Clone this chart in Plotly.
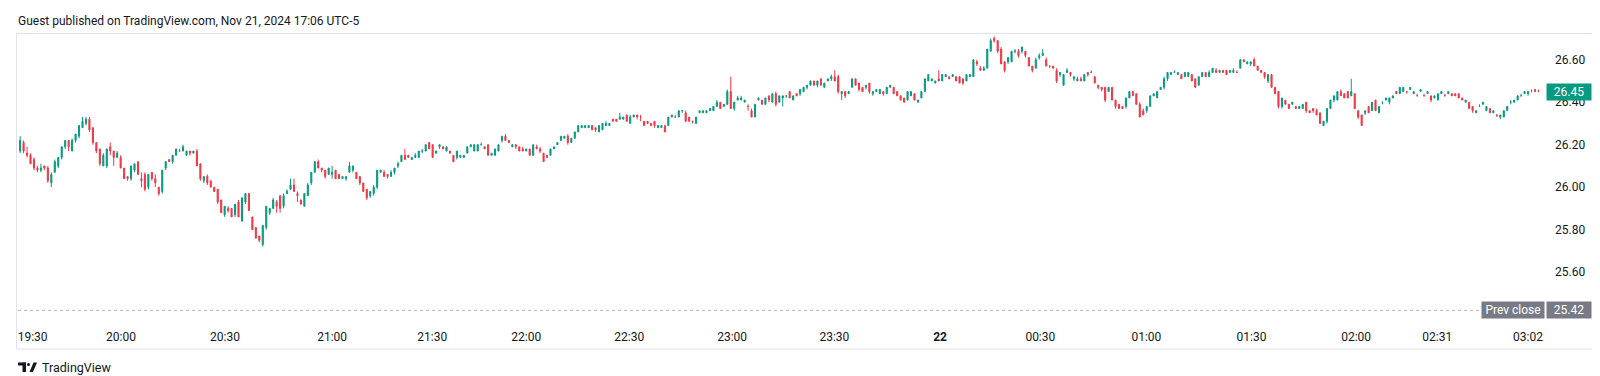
import plotly.graph_objects as go

# ---------------- data (1-minute candles) ----------------
OPEN = [
26.17,26.21,26.16,26.15,26.13,26.09,26.08,26.10,26.09,26.02,
26.07,26.10,26.14,26.19,26.22,26.17,26.22,26.24,26.28,26.30,
26.32,26.28,26.21,26.18,26.10,26.10,26.19,26.17,26.14,26.14,
26.09,26.05,26.04,26.08,26.12,26.04,26.06,26.00,26.07,26.04,
26.00,25.98,26.09,26.13,26.12,26.15,26.17,26.17,26.15,26.17,
26.16,26.17,26.11,26.03,26.05,26.03,26.00,25.99,25.94,25.87,
25.90,25.90,25.87,25.93,25.84,25.93,25.97,25.86,25.81,25.77,
25.73,25.81,25.88,25.90,25.93,25.96,25.91,25.97,25.99,26.01,
25.97,25.94,25.91,25.96,26.02,26.07,26.12,26.09,26.08,26.06,
26.06,26.08,26.06,26.04,26.04,26.07,26.08,26.07,26.05,26.02,
25.99,25.96,25.97,26.00,26.07,26.07,26.06,26.05,26.07,26.10,
26.12,26.15,26.15,26.13,26.14,26.14,26.17,26.17,26.21,26.20,
26.16,26.19,26.19,26.17,26.17,26.15,26.14,26.14,26.14,26.16,
26.19,26.17,26.17,26.20,26.19,26.20,26.15,26.15,26.17,26.22,
26.24,26.22,26.19,26.20,26.19,26.18,26.17,26.18,26.15,26.19,
26.18,26.16,26.15,26.15,26.18,26.20,26.22,26.23,26.24,26.21,
26.23,26.26,26.28,26.28,26.28,26.29,26.28,26.26,26.27,26.29,
26.29,26.32,26.32,26.32,26.32,26.34,26.30,26.33,26.34,26.33,
26.31,26.31,26.30,26.31,26.28,26.28,26.29,26.29,26.33,26.33,
26.33,26.36,26.35,26.33,26.31,26.30,26.35,26.35,26.35,26.36,
26.36,26.38,26.40,26.38,26.39,26.45,26.37,26.41,26.41,26.40,
26.38,26.36,26.33,26.41,26.41,26.39,26.43,26.40,26.44,26.40,
26.42,26.43,26.45,26.41,26.44,26.44,26.45,26.47,26.48,26.50,
26.48,26.51,26.47,26.50,26.51,26.52,26.52,26.44,26.45,26.44,
26.47,26.51,26.49,26.47,26.47,26.49,26.44,26.45,26.44,26.45,
26.44,26.47,26.47,26.45,26.43,26.42,26.41,26.43,26.44,26.40,
26.42,26.45,26.50,26.50,26.49,26.51,26.50,26.52,26.52,26.52,
26.52,26.52,26.51,26.50,26.52,26.52,26.59,26.56,26.55,26.56,
26.64,26.70,26.69,26.65,26.59,26.59,26.59,26.64,26.64,26.64,
26.64,26.61,26.57,26.56,26.61,26.62,26.60,26.57,26.57,26.55,
26.53,26.48,26.54,26.54,26.51,26.50,26.51,26.50,26.54,26.54,
26.52,26.48,26.47,26.47,26.45,26.47,26.41,26.39,26.38,26.38,
26.42,26.45,26.44,26.39,26.36,26.36,26.38,26.43,26.42,26.46,
26.47,26.51,26.53,26.54,26.53,26.53,26.52,26.52,26.53,26.51,
26.48,26.52,26.54,26.52,26.54,26.55,26.54,26.55,26.55,26.54,
26.54,26.54,26.56,26.60,26.58,26.58,26.60,26.57,26.55,26.54,
26.50,26.53,26.47,26.45,26.38,26.41,26.39,26.39,26.38,26.37,
26.37,26.40,26.36,26.37,26.36,26.35,26.29,26.31,26.37,26.41,
26.41,26.45,26.44,26.45,26.43,26.44,26.36,26.34,26.35,26.38,
26.36,26.41,26.35,26.40,26.41,26.40,26.42,26.45,26.44,26.45,
26.45,26.46,26.44,26.43,26.45,26.43,26.44,26.43,26.42,26.41,
26.44,26.43,26.44,26.44,26.44,26.44,26.42,26.40,26.40,26.38,
26.35,26.38,26.39,26.36,26.37,26.35,26.34,26.33,26.33,26.36,
26.40,26.40,26.41,26.43,26.44,26.44,26.45,26.46,26.45,
]
HIGH = [
26.24,26.22,26.19,26.16,26.14,26.10,26.11,26.10,26.10,26.07,
26.13,26.14,26.19,26.22,26.22,26.23,26.25,26.29,26.33,26.33,
26.33,26.28,26.21,26.18,26.16,26.18,26.21,26.17,26.17,26.15,
26.09,26.05,26.10,26.11,26.12,26.07,26.07,26.06,26.07,26.06,
26.00,26.08,26.12,26.13,26.15,26.18,26.18,26.20,26.17,26.17,
26.17,26.18,26.11,26.05,26.06,26.03,26.00,25.99,25.94,25.91,
25.91,25.90,25.92,25.94,25.95,25.97,25.97,25.86,25.81,25.77,
25.82,25.91,25.90,25.95,25.94,25.96,25.97,25.99,26.04,26.04,
25.98,25.94,25.97,26.02,26.07,26.12,26.13,26.09,26.08,26.09,
26.10,26.08,26.06,26.05,26.05,26.12,26.10,26.07,26.05,26.02,
25.99,25.98,26.01,26.08,26.08,26.08,26.06,26.08,26.09,26.12,
26.15,26.18,26.15,26.14,26.16,26.17,26.18,26.20,26.21,26.20,
26.17,26.20,26.19,26.19,26.17,26.15,26.17,26.15,26.15,26.19,
26.20,26.20,26.20,26.21,26.19,26.20,26.16,26.18,26.20,26.24,
26.25,26.22,26.20,26.20,26.19,26.19,26.18,26.18,26.20,26.20,
26.19,26.16,26.15,26.18,26.19,26.21,26.24,26.24,26.25,26.23,
26.26,26.29,26.29,26.29,26.29,26.29,26.28,26.29,26.30,26.31,
26.30,26.32,26.32,26.35,26.33,26.34,26.34,26.34,26.34,26.34,
26.31,26.31,26.30,26.31,26.29,26.29,26.29,26.33,26.34,26.34,
26.36,26.36,26.36,26.33,26.31,26.33,26.36,26.36,26.36,26.37,
26.38,26.41,26.40,26.39,26.46,26.52,26.40,26.43,26.43,26.41,
26.39,26.37,26.39,26.42,26.41,26.42,26.43,26.44,26.45,26.43,
26.43,26.43,26.45,26.43,26.44,26.46,26.47,26.48,26.50,26.50,
26.50,26.51,26.49,26.51,26.53,26.55,26.53,26.45,26.45,26.45,
26.51,26.51,26.49,26.47,26.48,26.49,26.45,26.46,26.46,26.45,
26.47,26.48,26.47,26.45,26.43,26.42,26.45,26.45,26.44,26.41,
26.45,26.51,26.53,26.51,26.50,26.55,26.53,26.53,26.52,26.53,
26.52,26.52,26.51,26.53,26.53,26.60,26.60,26.57,26.57,26.65,
26.70,26.71,26.69,26.66,26.59,26.61,26.64,26.65,26.65,26.66,
26.64,26.61,26.57,26.61,26.63,26.65,26.61,26.57,26.57,26.56,
26.54,26.53,26.56,26.54,26.52,26.52,26.52,26.53,26.54,26.55,
26.52,26.48,26.47,26.47,26.47,26.47,26.41,26.39,26.38,26.42,
26.45,26.45,26.44,26.40,26.37,26.38,26.43,26.44,26.45,26.47,
26.52,26.54,26.54,26.55,26.54,26.53,26.54,26.54,26.53,26.51,
26.52,26.54,26.54,26.55,26.56,26.56,26.55,26.55,26.55,26.55,
26.56,26.55,26.60,26.60,26.59,26.59,26.61,26.57,26.55,26.54,
26.53,26.53,26.47,26.45,26.42,26.41,26.39,26.40,26.38,26.38,
26.39,26.40,26.36,26.37,26.37,26.35,26.31,26.37,26.41,26.43,
26.45,26.46,26.44,26.45,26.51,26.44,26.36,26.34,26.36,26.38,
26.40,26.41,26.38,26.40,26.42,26.42,26.43,26.45,26.47,26.47,
26.45,26.47,26.45,26.44,26.46,26.44,26.45,26.43,26.43,26.44,
26.45,26.44,26.45,26.44,26.44,26.44,26.42,26.41,26.40,26.38,
26.36,26.39,26.40,26.38,26.37,26.36,26.34,26.34,26.36,26.38,
26.41,26.41,26.43,26.44,26.45,26.45,26.46,26.46,26.46,
]
LOW = [
26.16,26.16,26.14,26.11,26.08,26.07,26.07,26.08,26.02,26.00,
26.07,26.09,26.13,26.18,26.17,26.17,26.21,26.23,26.28,26.29,
26.26,26.20,26.16,26.10,26.10,26.09,26.15,26.10,26.14,26.09,
26.04,26.03,26.03,26.07,26.06,26.00,25.98,25.99,26.03,26.00,
25.96,25.97,26.08,26.12,26.11,26.15,26.17,26.17,26.15,26.15,
26.16,26.10,26.03,26.02,26.01,26.00,25.98,25.92,25.88,25.86,
25.88,25.86,25.86,25.86,25.84,25.92,25.89,25.80,25.76,25.74,
25.72,25.80,25.87,25.90,25.88,25.88,25.90,25.97,25.99,25.98,
25.93,25.92,25.91,25.96,26.01,26.07,26.09,26.07,26.04,26.06,
26.04,26.04,26.04,26.04,26.03,26.07,26.07,26.04,26.01,25.98,
25.94,25.95,25.96,25.99,26.07,26.05,26.04,26.05,26.06,26.09,
26.12,26.13,26.14,26.13,26.14,26.14,26.16,26.17,26.18,26.14,
26.16,26.18,26.18,26.17,26.16,26.12,26.13,26.14,26.14,26.16,
26.19,26.17,26.17,26.20,26.18,26.15,26.15,26.15,26.17,26.21,
26.22,26.21,26.19,26.18,26.17,26.17,26.17,26.15,26.15,26.18,
26.16,26.12,26.14,26.15,26.18,26.20,26.22,26.23,26.20,26.21,
26.23,26.26,26.28,26.28,26.28,26.27,26.26,26.26,26.27,26.29,
26.29,26.31,26.31,26.32,26.32,26.31,26.30,26.33,26.32,26.31,
26.29,26.30,26.29,26.28,26.28,26.28,26.26,26.29,26.33,26.33,
26.33,26.35,26.31,26.31,26.30,26.30,26.35,26.35,26.35,26.36,
26.36,26.38,26.37,26.38,26.39,26.37,26.36,26.41,26.41,26.40,
26.36,26.33,26.33,26.41,26.39,26.39,26.40,26.40,26.38,26.40,
26.38,26.42,26.42,26.41,26.43,26.43,26.45,26.46,26.48,26.48,
26.47,26.48,26.47,26.50,26.50,26.50,26.44,26.41,26.42,26.44,
26.47,26.48,26.45,26.45,26.46,26.44,26.43,26.45,26.44,26.43,
26.44,26.47,26.44,26.43,26.41,26.40,26.41,26.43,26.41,26.40,
26.42,26.45,26.50,26.50,26.49,26.50,26.50,26.52,26.51,26.52,
26.50,26.49,26.48,26.50,26.52,26.52,26.57,26.55,26.55,26.56,
26.64,26.68,26.63,26.58,26.54,26.58,26.59,26.63,26.61,26.63,
26.61,26.57,26.54,26.56,26.60,26.62,26.57,26.56,26.56,26.49,
26.52,26.48,26.54,26.52,26.50,26.50,26.50,26.50,26.52,26.54,
26.49,26.46,26.45,26.40,26.45,26.41,26.37,26.37,26.37,26.37,
26.42,26.43,26.39,26.33,26.34,26.35,26.38,26.43,26.42,26.46,
26.46,26.50,26.53,26.54,26.53,26.51,26.52,26.52,26.50,26.47,
26.48,26.52,26.52,26.52,26.54,26.54,26.54,26.54,26.53,26.54,
26.54,26.54,26.56,26.59,26.58,26.57,26.57,26.55,26.54,26.51,
26.49,26.47,26.44,26.37,26.37,26.39,26.37,26.39,26.37,26.37,
26.37,26.35,26.35,26.35,26.34,26.30,26.29,26.30,26.37,26.40,
26.41,26.43,26.42,26.42,26.43,26.37,26.32,26.29,26.34,26.35,
26.36,26.36,26.35,26.39,26.41,26.39,26.42,26.44,26.44,26.45,
26.44,26.46,26.44,26.43,26.45,26.43,26.44,26.40,26.42,26.41,
26.44,26.43,26.44,26.43,26.43,26.42,26.41,26.40,26.37,26.35,
26.35,26.38,26.39,26.36,26.35,26.35,26.33,26.32,26.33,26.36,
26.39,26.40,26.41,26.43,26.44,26.43,26.45,26.45,26.45,
]
CLOSE = [
26.22,26.17,26.15,26.11,26.09,26.08,26.09,26.09,26.03,26.06,
26.12,26.14,26.19,26.22,26.19,26.22,26.25,26.29,26.31,26.32,
26.27,26.21,26.17,26.11,26.15,26.18,26.17,26.14,26.16,26.09,
26.04,26.04,26.10,26.11,26.06,26.03,25.99,26.06,26.04,26.02,
25.97,26.08,26.12,26.12,26.15,26.18,26.17,26.19,26.17,26.16,
26.17,26.10,26.04,26.05,26.02,26.00,25.98,25.93,25.88,25.91,
25.89,25.86,25.92,25.86,25.95,25.97,25.89,25.80,25.76,25.75,
25.82,25.91,25.90,25.94,25.91,25.90,25.96,25.98,26.01,25.98,
25.96,25.92,25.97,26.01,26.07,26.12,26.09,26.08,26.05,26.09,
26.07,26.04,26.04,26.05,26.05,26.10,26.10,26.04,26.02,25.98,
25.95,25.98,26.00,26.08,26.08,26.05,26.05,26.07,26.09,26.11,
26.15,26.13,26.14,26.14,26.15,26.17,26.17,26.20,26.18,26.14,
26.17,26.20,26.18,26.19,26.16,26.12,26.17,26.15,26.15,26.19,
26.20,26.20,26.20,26.20,26.18,26.15,26.16,26.18,26.20,26.24,
26.22,26.21,26.20,26.19,26.17,26.17,26.18,26.15,26.20,26.18,
26.17,26.12,26.14,26.18,26.19,26.21,26.24,26.24,26.21,26.23,
26.26,26.29,26.29,26.29,26.29,26.27,26.27,26.29,26.30,26.30,
26.30,26.31,26.31,26.33,26.33,26.31,26.33,26.34,26.33,26.33,
26.29,26.30,26.29,26.29,26.29,26.29,26.26,26.33,26.34,26.33,
26.36,26.36,26.31,26.31,26.31,26.33,26.36,26.36,26.36,26.37,
26.38,26.40,26.37,26.39,26.45,26.37,26.40,26.42,26.42,26.41,
26.38,26.33,26.39,26.42,26.39,26.42,26.41,26.44,26.39,26.43,
26.43,26.43,26.42,26.43,26.43,26.46,26.47,26.48,26.50,26.48,
26.50,26.48,26.49,26.51,26.52,26.50,26.45,26.45,26.43,26.45,
26.51,26.48,26.46,26.45,26.48,26.45,26.45,26.46,26.46,26.44,
26.47,26.48,26.44,26.43,26.41,26.40,26.45,26.45,26.41,26.41,
26.45,26.51,26.53,26.51,26.50,26.50,26.53,26.53,26.51,26.53,
26.50,26.49,26.49,26.53,26.53,26.60,26.58,26.55,26.56,26.65,
26.69,26.69,26.64,26.58,26.55,26.61,26.64,26.64,26.62,26.66,
26.62,26.57,26.55,26.60,26.62,26.63,26.57,26.57,26.56,26.50,
26.54,26.53,26.55,26.53,26.52,26.51,26.50,26.53,26.53,26.54,
26.49,26.47,26.46,26.41,26.47,26.41,26.38,26.37,26.37,26.42,
26.45,26.43,26.39,26.33,26.34,26.38,26.43,26.44,26.45,26.47,
26.51,26.54,26.54,26.54,26.54,26.51,26.54,26.54,26.50,26.47,
26.52,26.54,26.52,26.54,26.56,26.54,26.55,26.54,26.53,26.55,
26.55,26.54,26.60,26.59,26.59,26.59,26.57,26.55,26.54,26.52,
26.53,26.47,26.44,26.38,26.42,26.39,26.37,26.40,26.37,26.38,
26.39,26.36,26.35,26.36,26.34,26.30,26.31,26.37,26.41,26.43,
26.45,26.43,26.42,26.42,26.45,26.37,26.33,26.29,26.36,26.35,
26.40,26.36,26.38,26.40,26.42,26.42,26.43,26.44,26.47,26.47,
26.45,26.47,26.45,26.43,26.46,26.43,26.45,26.41,26.43,26.44,
26.45,26.43,26.45,26.43,26.43,26.42,26.41,26.41,26.37,26.36,
26.36,26.38,26.40,26.38,26.35,26.36,26.34,26.34,26.36,26.38,
26.40,26.41,26.43,26.43,26.45,26.45,26.45,26.45,26.45,
]
TIME_TICK_POS = [3.6, 29.1, 59.1, 90.0, 118.9, 146.0, 175.7, 205.4, 234.9,
                 265.4, 294.3, 324.9, 355.2, 385.4, 408.8, 435.0]
TIME_TICK_TEXT = ["19:30", "20:00", "20:30", "21:00", "21:30", "22:00", "22:30",
                  "23:00", "23:30", "<b>22</b>", "00:30", "01:00", "01:30",
                  "02:00", "02:31", "03:02"]
PRICE_TICKS = [25.60, 25.80, 26.00, 26.20, 26.40, 26.60]
LAST_PRICE = 26.45
PREV_CLOSE = 25.42
TITLE = "Guest published on TradingView.com, Nov 21, 2024 17:06 UTC-5"

# ---------------- style ----------------
UP, DOWN = "#089981", "#F23645"
TEXT = "#131722"
FONT = "Roboto"
W, HGT = 1600, 376
ML, MR, MT, MB = 9, 64, 26, 63
PW, PH = W - ML - MR, HGT - MT - MB


def px(x):  # pixel -> paper x
    return (x - ML) / PW


def py(y):  # pixel -> paper y
    return (HGT - MB - y) / PH


X = list(range(len(OPEN)))

fig = go.Figure(go.Candlestick(
    x=X, open=OPEN, high=HIGH, low=LOW, close=CLOSE,
    increasing=dict(line=dict(color=UP, width=1), fillcolor=UP),
    decreasing=dict(line=dict(color=DOWN, width=1), fillcolor=DOWN),
    whiskerwidth=0, hoverinfo="skip", showlegend=False,
))

fig.update_layout(
    width=W, height=HGT,
    margin=dict(l=ML, r=MR, t=MT, b=MB, pad=0),
    paper_bgcolor="white", plot_bgcolor="white",
    boxgap=0.55, showlegend=False, hovermode=False,
    font=dict(family=FONT, size=12, color=TEXT),
    xaxis=dict(range=[-0.9, 439.6], showgrid=False, zeroline=False,
               showline=False, ticks="", rangeslider=dict(visible=False),
               tickmode="array", tickvals=TIME_TICK_POS, ticktext=TIME_TICK_TEXT,
               tickfont=dict(family=FONT, size=12, color=TEXT),
               ticklabelstandoff=7),
    yaxis=dict(range=[25.370, 26.721], side="right", showgrid=False,
               zeroline=False, showline=False, ticks="",
               tickmode="array", tickvals=PRICE_TICKS,
               ticktext=[f"{v:.2f}" for v in PRICE_TICKS],
               tickfont=dict(family=FONT, size=12, color=TEXT),
               ticklabelstandoff=10),
)

shapes = [
    # chart frame
    dict(type="rect", xref="paper", yref="paper", x0=px(8.5), x1=px(1590.5),
         y0=py(341), y1=py(25.5), line=dict(color="#E0E3EB", width=1),
         fillcolor="rgba(0,0,0,0)", layer="below"),
    # previous close dotted line
    dict(type="line", xref="paper", yref="y", x0=px(10), x1=px(1472),
         y0=PREV_CLOSE, y1=PREV_CLOSE, line=dict(color="#B2B5BE", width=1, dash="dot")),
    # TradingView logo (approximate)
    dict(type="rect", xref="paper", yref="paper", x0=px(10), x1=px(18),
         y0=py(357.5), y1=py(354.5), line=dict(width=0), fillcolor=TEXT),
    dict(type="rect", xref="paper", yref="paper", x0=px(14.5), x1=px(18),
         y0=py(364), y1=py(354.5), line=dict(width=0), fillcolor=TEXT),
    dict(type="circle", xref="paper", yref="paper", x0=px(19), x1=px(22),
         y0=py(358), y1=py(355), line=dict(width=0), fillcolor=TEXT),
    dict(type="path", xref="paper", yref="paper",
         path=f"M {px(21.5)},{py(364)} L {px(25)},{py(364)} L {px(29)},{py(354.5)} L {px(25.5)},{py(354.5)} Z",
         line=dict(width=0), fillcolor=TEXT),
]
fig.update_layout(shapes=shapes)

annotations = [
    dict(text=TITLE, xref="paper", yref="paper", x=px(8), y=py(13),
         xanchor="left", yanchor="middle", showarrow=False,
         font=dict(family=FONT, size=12, color=TEXT)),
    dict(text="TradingView", xref="paper", yref="paper", x=px(32), y=py(359),
         xanchor="left", yanchor="middle", showarrow=False,
         font=dict(family=FONT, size=12.5, color=TEXT)),
    dict(text=f"{LAST_PRICE:.2f}", xref="paper", yref="y", x=px(1561), y=LAST_PRICE,
         xanchor="center", yanchor="middle", showarrow=False,
         bgcolor=UP, width=44, height=16, borderpad=0,
         font=dict(family=FONT, size=12, color="white")),
    dict(text="Prev close", xref="paper", yref="y", x=px(1505), y=PREV_CLOSE,
         xanchor="center", yanchor="middle", showarrow=False,
         bgcolor="#787B86", width=62, height=16, borderpad=0,
         font=dict(family=FONT, size=12, color="white")),
    dict(text=f"{PREV_CLOSE:.2f}", xref="paper", yref="y", x=px(1561.5), y=PREV_CLOSE,
         xanchor="center", yanchor="middle", showarrow=False,
         bgcolor="#787B86", width=44, height=16, borderpad=0,
         font=dict(family=FONT, size=12, color="white")),
]
fig.update_layout(annotations=annotations)

fig.write_html("out.html")
